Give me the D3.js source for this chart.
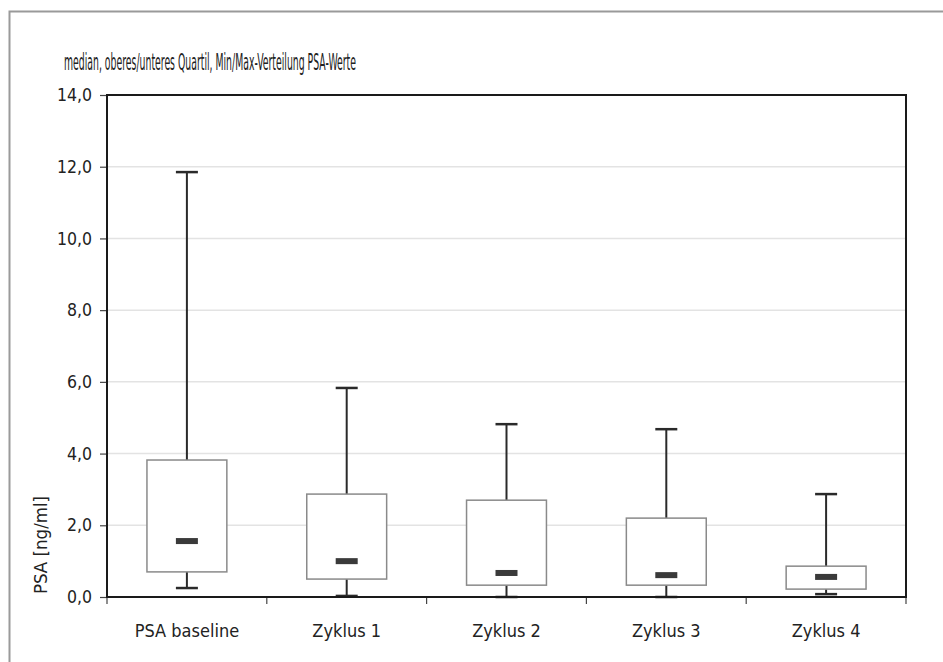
<!DOCTYPE html>
<html>
<head>
<meta charset="utf-8">
<script src="https://cdn.jsdelivr.net/npm/d3@7"></script>
<style>
  body { margin: 0; background: #fff; }
  text { font-family: "Liberation Sans Narrow", "DejaVu Sans Condensed", sans-serif; fill: #222; }
</style>
</head>
<body>
<div id="chart"></div>
<script>
// box plot data (PSA in ng/ml)
const categories = ["PSA baseline", "Zyklus 1", "Zyklus 2", "Zyklus 3", "Zyklus 4"];
const minVals    = [0.25, 0.03, 0.0, 0.0, 0.08];
const q1Vals     = [0.70, 0.50, 0.33, 0.33, 0.22];
const medianVals = [1.56, 1.00, 0.67, 0.61, 0.56];
const q3Vals     = [3.82, 2.87, 2.70, 2.20, 0.86];
const maxVals    = [11.85, 5.83, 4.82, 4.68, 2.87];
const yTicks = [0, 2, 4, 6, 8, 10, 12, 14];
const title = "median, oberes/unteres Quartil, Min/Max-Verteilung PSA-Werte";
const yLabel = "PSA [ng/ml]";

const width = 943, height = 662;
const margin = { top: 95, right: 37, bottom: 65, left: 107 };

const svg = d3.select("#chart").append("svg")
    .attr("width", width)
    .attr("height", height);

// outer grey frame (only top and left visible)
svg.append("path")
    .attr("d", `M9.5,${height} V11.5 H${width}`)
    .attr("fill", "none")
    .attr("stroke", "#9a9a9a")
    .attr("stroke-width", 2);

// title is very condensed in the original, squeeze it to the same width
svg.append("text")
    .attr("x", 64).attr("y", 70)
    .style("font-size", "23px")
    .attr("textLength", 292)
    .attr("lengthAdjust", "spacingAndGlyphs")
    .text(title);

const x = d3.scaleBand()
    .domain(categories)
    .range([margin.left, width - margin.right]);

const y = d3.scaleLinear()
    .domain([0, 14])
    .range([height - margin.bottom, margin.top]);

// grid lines
svg.append("g")
    .selectAll("line")
    .data(yTicks.filter(d => d > 0 && d < 14))
    .join("line")
    .attr("x1", margin.left).attr("x2", width - margin.right)
    .attr("y1", d => y(d)).attr("y2", d => y(d))
    .attr("stroke", "#e3e3e3")
    .attr("stroke-width", 1.5);

// y axis
const yAxis = svg.append("g")
    .attr("transform", `translate(${margin.left},0)`)
    .call(d3.axisLeft(y).tickValues(yTicks).tickSize(7).tickPadding(8)
        .tickFormat(d => d3.format(".1f")(d).replace(".", ",")));
yAxis.select(".domain").remove();
yAxis.selectAll(".tick line").attr("stroke", "#444").attr("stroke-width", 1.2);
yAxis.selectAll("text").style("font-size", "17.5px").attr("fill", "#222");

// x axis ticks at band boundaries
const bounds = categories.map(c => x(c)).concat([x.range()[1]]);
svg.append("g")
    .selectAll("line")
    .data(bounds)
    .join("line")
    .attr("x1", d => d).attr("x2", d => d)
    .attr("y1", y(0)).attr("y2", y(0) + 7)
    .attr("stroke", "#444").attr("stroke-width", 1.2);

svg.append("g")
    .selectAll("text")
    .data(categories)
    .join("text")
    .attr("x", d => x(d) + x.bandwidth() / 2)
    .attr("y", y(0) + 40)
    .attr("text-anchor", "middle")
    .style("font-size", "18px")
    .text(d => d);

// y label
svg.append("text")
    .attr("transform", `translate(47,${y(1.45)}) rotate(-90)`)
    .attr("text-anchor", "middle")
    .style("font-size", "18.5px")
    .text(yLabel);

// boxes
const boxW = x.bandwidth() / 2;
const capW = 22;
const medW = 22;
const rows = categories.map((c, i) => ({
    cat: c, min: minVals[i], q1: q1Vals[i], med: medianVals[i], q3: q3Vals[i], max: maxVals[i]
}));

const g = svg.append("g")
    .selectAll("g")
    .data(rows)
    .join("g")
    .attr("transform", d => `translate(${x(d.cat) + x.bandwidth() / 2},0)`);

// upper whisker
g.append("line")
    .attr("x1", 0).attr("x2", 0)
    .attr("y1", d => y(d.q3)).attr("y2", d => y(d.max))
    .attr("stroke", "#2a2a2a").attr("stroke-width", 2);
g.append("line")
    .attr("x1", -capW / 2).attr("x2", capW / 2)
    .attr("y1", d => y(d.max)).attr("y2", d => y(d.max))
    .attr("stroke", "#2a2a2a").attr("stroke-width", 2.5);

// lower whisker
g.append("line")
    .attr("x1", 0).attr("x2", 0)
    .attr("y1", d => y(d.q1)).attr("y2", d => y(d.min))
    .attr("stroke", "#2a2a2a").attr("stroke-width", 2);
g.append("line")
    .attr("x1", -capW / 2).attr("x2", capW / 2)
    .attr("y1", d => y(d.min)).attr("y2", d => y(d.min))
    .attr("stroke", "#2a2a2a").attr("stroke-width", 2.5);

g.append("rect")
    .attr("x", -boxW / 2)
    .attr("width", boxW)
    .attr("y", d => y(d.q3))
    .attr("height", d => y(d.q1) - y(d.q3))
    .attr("fill", "#fff")
    .attr("stroke", "#8a8a8a")
    .attr("stroke-width", 1.5);

g.append("rect")
    .attr("x", -medW / 2)
    .attr("width", medW)
    .attr("y", d => y(d.med) - 3)
    .attr("height", 6)
    .attr("fill", "#3a3a3a");

// plot frame (drawn last so the axis line sits over the whisker ends)
svg.append("rect")
    .attr("x", margin.left).attr("y", margin.top)
    .attr("width", width - margin.left - margin.right)
    .attr("height", height - margin.top - margin.bottom)
    .attr("fill", "none")
    .attr("stroke", "#1a1a1a")
    .attr("stroke-width", 2);
</script>
</body>
</html>
